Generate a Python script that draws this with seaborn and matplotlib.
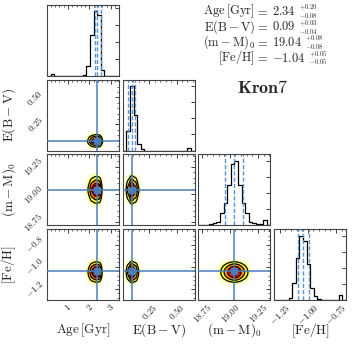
import numpy as np
import pandas as pd
import matplotlib
matplotlib.use("Agg")
import matplotlib.pyplot as plt
from matplotlib.colors import ListedColormap
from matplotlib.ticker import FixedLocator, AutoMinorLocator, MaxNLocator, NullFormatter, FixedFormatter
import seaborn as sns

sns.set_style("white")
plt.rcParams['mathtext.fontset'] = 'cm'
plt.rcParams['font.family'] = ['DejaVu Serif']

# ---------------- data ----------------
axis_labels = [r"$\mathrm{Age\,[Gyr]}$", r"$\mathrm{E(B-V)}$", r"$\mathrm{(m-M)_0}$", r"$\mathrm{[Fe/H]}$"]
text_labels = [r"$\mathrm{Age\,[Gyr]}$", r"$\mathrm{E(B-V)}$", r"$\mathrm{(m-M)_0}$", r"$\mathrm{[Fe/H]}$"]
ranges = [(0.02, 3.37), (0.005, 0.665), (18.72, 19.36), (-1.30, -0.66)]
medians = [2.34, 0.09, 19.04, -1.04]
err_hi = [0.20, 0.03, 0.08, 0.05]
err_lo = [0.08, 0.04, 0.08, 0.05]
median_txt = ["2.34", "0.09", "19.04", "-1.04"]
hi_txt = ["+0.20", "+0.03", "+0.08", "+0.05"]
lo_txt = ["-0.08", "-0.04", "-0.08", "-0.05"]
title = "Kron7"

age_counts = [0, 2, 0, 0, 0, 0, 0, 0, 0, 0, 1, 15, 60, 95, 90, 8, 0, 0, 0, 0]
ebv_counts = [0, 30, 100, 55, 10, 3, 0, 0, 0, 0, 0, 0, 0, 0, 0, 0, 0, 0, 4, 0]
dm_counts = [0, 0, 0, 2, 3, 5, 19, 34, 62, 95, 100, 62, 34, 19, 5, 3, 2, 2, 8, 0]
feh_counts = [0, 0, 0, 0, 3, 26, 65, 100, 92, 56, 19, 6, 1, 0, 0, 0, 0, 0, 7, 0]
counts = [age_counts, ebv_counts, dm_counts, feh_counts]

xticks_vals = [[1, 2, 3], [0.25, 0.50], [18.75, 19.00, 19.25], [-1.25, -1.00, -0.75]]
xticks_lbls = [["1", "2", "3"], ["0.25", "0.50"], ["18.75", "19.00", "19.25"], ["-1.25", "-1.00", "-0.75"]]
yticks_vals = [[1, 2, 3], [0.25, 0.50], [18.75, 19.00, 19.25], [-1.2, -1.0, -0.8]]
yticks_lbls = [["1", "2", "3"], ["0.25", "0.50"], ["18.75", "19.00", "19.25"], ["-1.2", "-1.0", "-0.8"]]
minor_div = [5, 5, 5, 5]
core_frac = 0.1  # 2D density panels use the core of each marginal

# ---------------- style ----------------
truth_color = "#4a7ebb"
q_color = "#5b93d3"
hot = plt.get_cmap("hot_r")
cmap = ListedColormap(hot(np.linspace(0.0, 0.85, 256)))

K = 4
W_px, H_px = 357, 346
fig, axes = plt.subplots(K, K, figsize=(W_px / 100, H_px / 100), dpi=100)
fig.subplots_adjust(left=47 / W_px, right=346 / W_px, bottom=1 - 300 / H_px, top=1 - 5 / H_px,
                    wspace=0.055, hspace=0.056)

edges = [np.linspace(r[0], r[1], len(c) + 1) for r, c in zip(ranges, counts)]
centers = [0.5 * (e[1:] + e[:-1]) for e in edges]


def mtxt(s):
    return r"$\mathrm{" + s + "}$"


def style_ticks(ax):
    ax.tick_params(which="both", direction="in", top=True, right=True, labelsize=6.5,
                   color="#222222", pad=1.5)
    ax.tick_params(which="major", length=3, width=0.6)
    ax.tick_params(which="minor", length=1.6, width=0.5)
    for s in ax.spines.values():
        s.set_color("#444444")
        s.set_linewidth(0.8)


for i in range(K):
    for j in range(K):
        ax = axes[i, j]
        if j > i:
            ax.set_axis_off()
            continue
        style_ticks(ax)
        if i == j:
            hdf = pd.DataFrame({"x": centers[i], "w": np.asarray(counts[i], float)})
            sns.histplot(data=hdf, x="x", weights="w", bins=list(edges[i]), element="step",
                         fill=False, color="black", linewidth=0.9, ax=ax)
            ax.set_ylim(0, 1.1 * max(counts[i]))
            for q in (medians[i] - err_lo[i], medians[i], medians[i] + err_hi[i]):
                ax.axvline(q, color=q_color, ls=(0, (3, 1.5)), lw=1.0)
            ax.yaxis.set_major_locator(MaxNLocator(5, prune="lower"))
            ax.yaxis.set_major_formatter(NullFormatter())
            ax.set_ylabel("")
        else:
            cx = np.asarray(counts[j], float)
            cy = np.asarray(counts[i], float)
            cx = np.where(cx >= core_frac * cx.max(), cx, 0)
            cy = np.where(cy >= core_frac * cy.max(), cy, 0)
            X, Y = np.meshgrid(centers[j], centers[i])
            Wt = np.outer(cy, cx)
            m = Wt > 0
            kdf = pd.DataFrame({"x": X[m], "y": Y[m], "w": Wt[m]})
            sns.kdeplot(data=kdf, x="x", y="y", weights="w", fill=True, cmap=cmap, levels=40,
                        thresh=0.006, bw_adjust=0.85, gridsize=160, ax=ax, zorder=1)
            sns.kdeplot(data=kdf, x="x", y="y", weights="w", fill=False, colors="black",
                        levels=[0.135, 0.325, 0.607, 0.882], linewidths=0.9,
                        bw_adjust=0.85, gridsize=160, ax=ax, zorder=2)
            ax.axvline(medians[j], color=truth_color, lw=1.1, zorder=3)
            ax.axhline(medians[i], color=truth_color, lw=1.1, zorder=3)
            ax.plot([medians[j]], [medians[i]], "s", color=truth_color, ms=4.5, zorder=4)
            ax.set_ylim(ranges[i])
            ax.yaxis.set_major_locator(FixedLocator(yticks_vals[i]))
            ax.yaxis.set_minor_locator(AutoMinorLocator(minor_div[i]))
            if j == 0:
                ax.yaxis.set_major_formatter(FixedFormatter([mtxt(t) for t in yticks_lbls[i]]))
                for lbl in ax.get_yticklabels():
                    lbl.set_rotation(45)
                    lbl.set_va("center")
                ax.set_ylabel(axis_labels[i], fontsize=9.5)
                ax.yaxis.set_label_coords(-0.40, 0.5)
            else:
                ax.yaxis.set_major_formatter(NullFormatter())
                ax.set_ylabel("")
        ax.set_xlim(ranges[j])
        ax.xaxis.set_major_locator(FixedLocator(xticks_vals[j]))
        ax.xaxis.set_minor_locator(AutoMinorLocator(minor_div[j]))
        if i == K - 1:
            ax.xaxis.set_major_formatter(FixedFormatter([mtxt(t) for t in xticks_lbls[j]]))
            for lbl in ax.get_xticklabels():
                lbl.set_rotation(45)
                lbl.set_ha("center")
            ax.set_xlabel(axis_labels[j], fontsize=9.5)
            ax.xaxis.set_label_coords(0.5, -0.30)
        else:
            ax.xaxis.set_major_formatter(NullFormatter())
            ax.set_xlabel("")

# ---------------- text block ----------------
row_y = [11.5, 27, 42.5, 58]
fig.canvas.draw()
renderer = fig.canvas.get_renderer()
for k in range(K):
    yy = row_y[k]
    fig.text(255 / W_px, 1 - yy / H_px, text_labels[k], ha="right", va="center", fontsize=9)
    fig.text(262 / W_px, 1 - yy / H_px, r"$=$", ha="center", va="center", fontsize=9)
    vt = fig.text(272 / W_px, 1 - yy / H_px, mtxt(median_txt[k]), ha="left", va="center", fontsize=9)
    x_end = vt.get_window_extent(renderer).x1 + 3
    fig.text(x_end / W_px, 1 - (yy - 4.0) / H_px, mtxt(hi_txt[k]), ha="left", va="center", fontsize=4.8)
    fig.text(x_end / W_px, 1 - (yy + 4.0) / H_px, mtxt(lo_txt[k]), ha="left", va="center", fontsize=4.8)
fig.text(263 / W_px, 1 - 88 / H_px, r"$\mathbf{" + title + r"}$", ha="center", va="center", fontsize=13)

fig.savefig("out.png", dpi=100)
